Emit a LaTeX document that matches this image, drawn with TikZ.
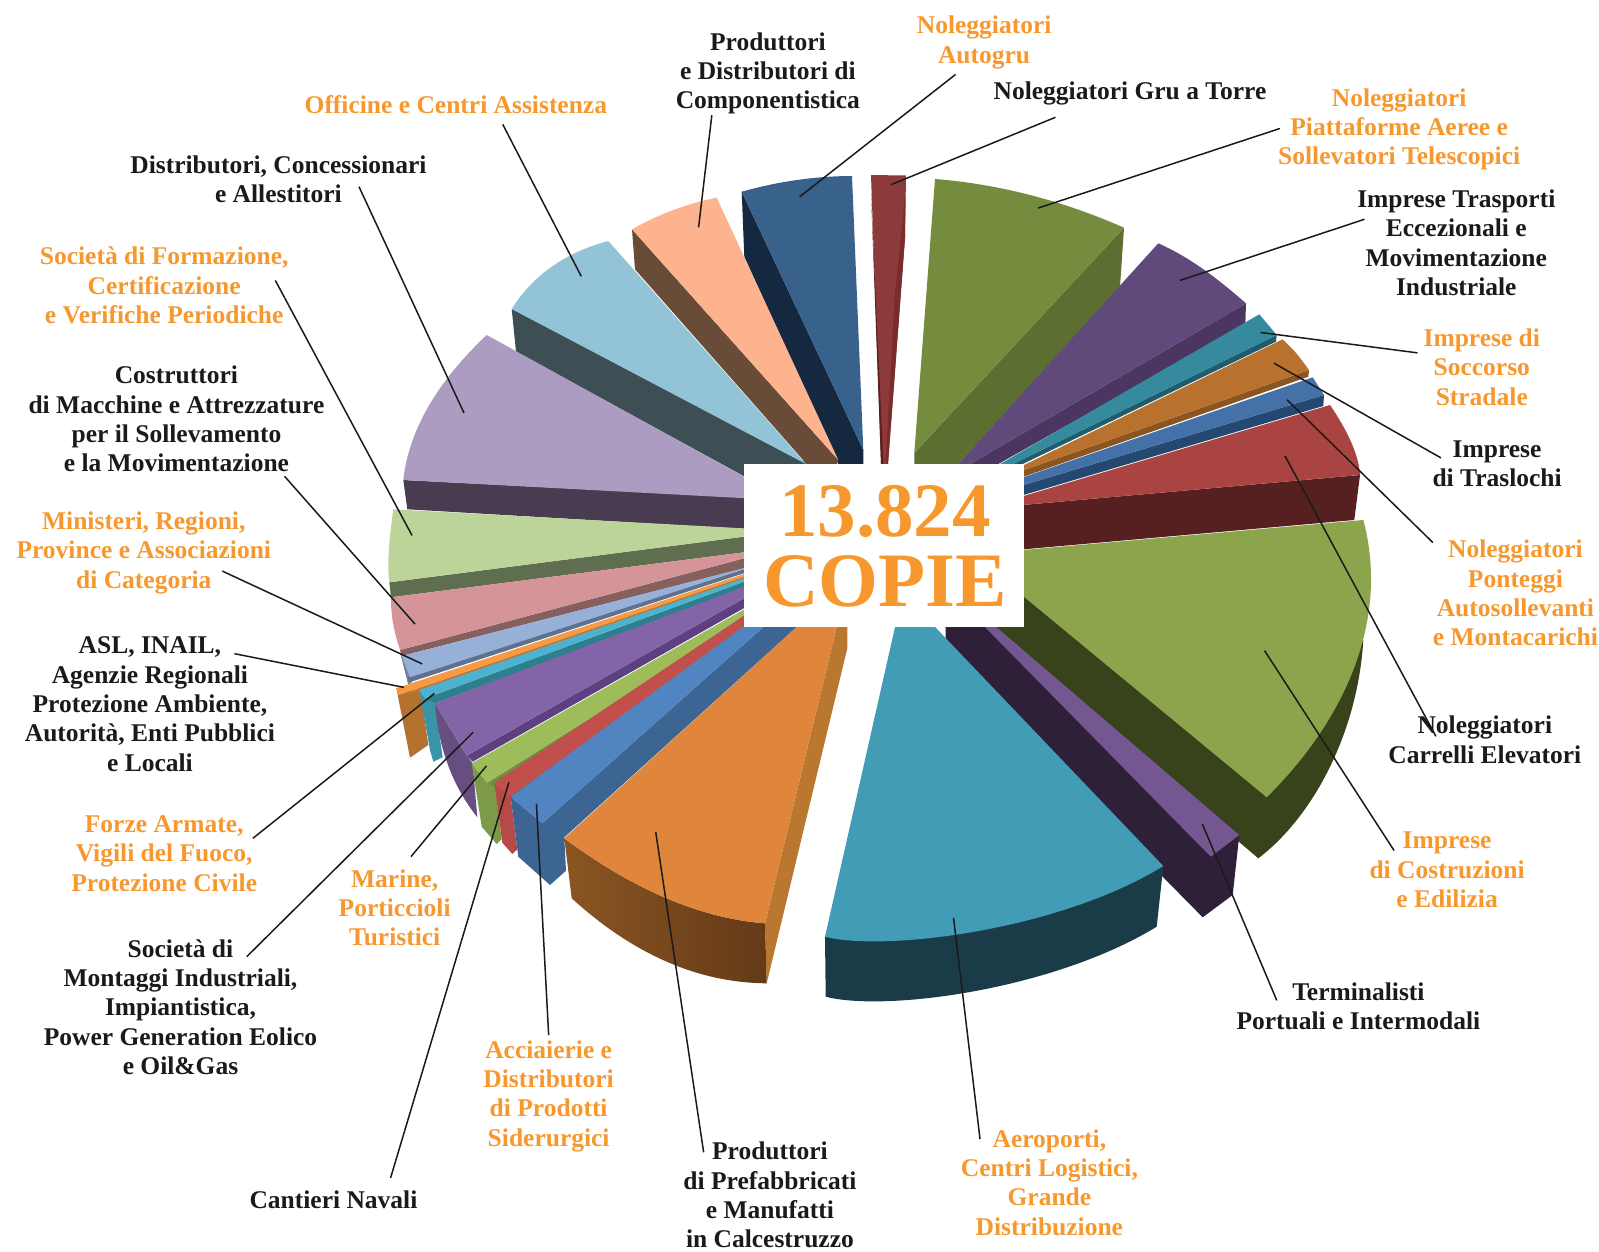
\documentclass[tikz,border=0pt]{standalone}
\usepackage{fontspec}
\setmainfont{Liberation Serif}
\definecolor{ink}{HTML}{1A1A1A}
\definecolor{org}{HTML}{F7982E}
\newcommand{\lf}{\fontsize{25.5}{29.3}\selectfont\bfseries}
\newcommand{\poly}[2]{\definecolor{tmpc}{HTML}{#1}\fill[tmpc] #2;}
\tikzset{
  lab/.style={align=center,font=\lf,inner sep=0pt,text=ink},
  olab/.style={lab,text=org},
  leader/.style={draw=ink,line width=1.5pt},
  bignum/.style={inner sep=0pt,text=org,font=\fontsize{77}{77}\selectfont\bfseries},
}
\begin{document}
\begin{tikzpicture}[x=1pt,y=-1pt]
\useasboundingbox (0,0) rectangle (1599,1251);
% --- upper left, back to front
\poly{142840}{(741.7,191.7) -- (744.3,256.7) -- (838.3,464) -- (863.3,464) -- (863.3,450) -- cycle}
\poly{38618C}{(741.7,191.7) .. controls (778.3,181.4) and (815.1,176.1) .. (852,176) -- (863.3,450) -- cycle}
\poly{694C38}{(632,229.3) -- (635,269.3) -- (806.7,464) -- (837,464) -- (838.3,460) -- cycle}
\poly{FDB48E}{(632,229.3) .. controls (658.9,214.1) and (687.1,203.6) .. (716.7,197.7) -- (838.3,460) -- cycle}
\poly{3D4F55}{(511.7,309) -- (516,351.7) -- (760,485) -- (810,485) -- (806,462) -- cycle}
\poly{93C3D7}{(511.7,309) .. controls (532.8,275.3) and (565,252.6) .. (608.3,241) -- (806,464) -- cycle}
\poly{483D50}{(403.3,480) -- (407.3,509.3) -- (760,530) -- (760,498) -- cycle}
\poly{AC9CC2}{(403.3,480) .. controls (408.8,430.6) and (436.6,382.3) .. (486.7,335) -- (760,485.5) -- (760,499) -- cycle}
\poly{606E50}{(389.3,582.3) -- (391,597.3) -- (760,550.3) -- (760,534.6) -- cycle}
\poly{BCD49A}{(393.3,509.3) .. controls (388.5,543.2) and (387.2,567.6) .. (389.3,582.3) -- (760,534.6) -- (760,529.2) -- cycle}
\poly{85605F}{(400,650) -- (401.7,656) -- (760,564.2) -- (760,554) -- cycle}
\poly{D59598}{(391,597.3) .. controls (390.7,614) and (393.7,631.5) .. (400,650) -- (760,554) -- (760,550.3) -- cycle}
\poly{7D7F9E}{(400.7,655) -- (408.3,685) -- (412,682) -- (403,654) -- cycle}
\poly{5E7290}{(408.3,677.3) -- (408.3,682.7) -- (760,568) -- (760,564) -- cycle}
\poly{97B0D8}{(401.7,656) -- (410,677.3) -- (760,564) -- cycle}
% orange thin
\poly{B4722F}{(396.7,690) -- (410,757.7) -- (428.3,745) -- (420.7,691.7) -- cycle}
\poly{C07830}{(398.3,695) -- (421,692) -- (760,573) -- (760,571) -- cycle}
\poly{F79A46}{(396,688.3) -- (398.3,695) -- (760,571.2) -- (760,568.7) -- cycle}
% cyan
\poly{3A94A8}{(419.3,690) -- (430,750) -- (433.3,761.7) -- (442.7,757.3) -- (435,703) -- (425,698.3) -- cycle}
\poly{2C7F8C}{(425,698.3) -- (435,703.3) -- (760,582.4) -- (760,575.9) -- cycle}
\poly{4CB2CF}{(419.3,690) -- (425,698.3) -- (760,575.9) -- (760,572.8) -- cycle}
% purple
\poly{674E80}{(435,703.3) .. controls (438.3,747.8) and (452.4,785.8) .. (477.3,817.3) -- (472.7,763.3) -- (466.7,755.7) -- cycle}
\poly{5C4080}{(466.7,755.7) -- (472.7,761.7) -- (760,599) -- (760,589.2) -- cycle}
\poly{8464A8}{(435,703.3) -- (466.7,755.7) -- (760,589.2) -- (760,580.7) -- cycle}
% green
\poly{7C9A48}{(471.7,763.3) -- (481.7,826.7) -- (496.7,844) -- (501.7,839.3) -- (495,785) -- (487.3,782.7) -- cycle}
\poly{6E9040}{(487.3,782.7) -- (494,786.7) -- (760,617.9) -- (760,611.7) -- cycle}
\poly{9EBC5A}{(471.7,763.3) -- (487.3,782.7) -- (760,611.7) -- (760,600.4) -- cycle}
% red
\poly{B54A47}{(494.3,782.7) -- (502.3,842.7) -- (512.3,854) -- (517.3,849.3) -- (510.7,796.7) -- cycle}
\poly{9C3A36}{(509.3,796.7) -- (513,799) -- (770,615) -- (765,613) -- cycle}
\poly{C1504D}{(494.3,782.7) -- (509.3,796.7) -- (765,615) -- (760,605) -- cycle}
% blue
\poly{3C6594}{(542.3,823.3) -- (763.3,627) -- (796.7,627) -- (564.3,837.3) -- (566,870.7) -- (550,885) -- (518.3,856.7) -- (510.7,796.7) -- cycle}
\poly{5085C1}{(510.7,796.7) -- (542.3,823.3) -- (763.3,627) -- (743,627) -- cycle}
% big orange
\poly{B9772F}{(765,923.3) -- (766.7,983.3) -- (847.3,648.3) -- (847.3,620) -- (838.4,620) -- cycle}
\definecolor{oa}{HTML}{8A5522}\definecolor{ob}{HTML}{643A18}
\shade[left color=oa,right color=ob] (564.3,838.3) .. controls (633.9,890) and (700.8,918.3) .. (765,923.3) -- (766.7,983.3) .. controls (698.4,982.8) and (633.4,954.5) .. (571.7,898.3) -- cycle;
\poly{E0863C}{(564.3,838.3) .. controls (633.9,890) and (700.8,918.3) .. (765,923.3) -- (838.4,620) -- (804.4,620) -- cycle}
% --- upper right
\poly{5C6F31}{(1124,227.7) -- (1120,286.7) -- (958.3,464) -- (914.3,464) -- (914.3,453) -- cycle}
\poly{758C3E}{(935,179) .. controls (998.7,184.1) and (1061.7,200.3) .. (1124,227.7) -- (914.3,453) -- cycle}
\poly{4A3660}{(1246,303.3) -- (1245.3,325) -- (998.3,464) -- (970,464) -- cycle}
\poly{604A7B}{(1158.3,243.3) .. controls (1193.6,258.9) and (1222.8,283.3) .. (1246,303.3) -- (970,464) -- (958.3,464) -- cycle}
\poly{205C6C}{(1276.7,335) -- (1276,341.7) -- (1022.7,464) -- (1013,464) -- cycle}
\poly{358A9E}{(1259.3,314.3) -- (1276.7,335) -- (1013,464) -- (1000,464) -- cycle}
\poly{8A5520}{(1309,370) -- (1308.3,376.7) -- (1000,485) -- (1000,478.4) -- cycle}
\poly{B9722E}{(1282.7,339.3) .. controls (1296.05,352.45) .. (1309,370) -- (1000,478.4) -- (1000,476.7) -- cycle}
\poly{254870}{(1324,395) -- (1323.3,406) -- (1000,502) -- (1000,492) -- cycle}
\poly{4471A8}{(1312.7,377.3) -- (1324,395) -- (1000,492) -- (1000,485.3) -- cycle}
\poly{562020}{(1360,475) -- (1354.3,520) -- (1000,551.4) -- (1000,507) -- cycle}
\poly{A94442}{(1330,405) .. controls (1348.9,432.7) and (1358.9,456.2) .. (1360,475) -- (1000,507) -- (1000,503) -- cycle}
% big green
\poly{38421B}{(1363.3,640) .. controls (1358,730) and (1315,815) .. (1258.3,858.3) -- (986.7,627) -- (1000,570) -- cycle}
\poly{8CA54D}{(1363.3,520) .. controls (1390,620) and (1345,720) .. (1266.7,797.3) -- (1000,577) -- (1000,552) -- cycle}
% purple strip
\poly{2E2038}{(945.7,620) -- (945.7,640) -- (1163,877) -- (1202.7,917.3) -- (1232.7,895) -- (1239.3,835) -- (985,620) -- cycle}
\poly{745690}{(978,620) -- (1210.7,856.7) -- (1239.3,835) -- (988,620) -- cycle}
% big teal
\poly{1A3C48}{(825,936.7) -- (825.7,996.7) .. controls (885,1012) and (1053,990) .. (1156.7,926.7) -- (1163.3,866) -- cycle}
\poly{429CB5}{(825,936.7) .. controls (885,952) and (1060,930) .. (1163.3,866) -- (928.4,620) -- (896.6,620) -- cycle}
% small red, top
\poly{8C3A3A}{(871,175) -- (906,175.5) -- (905,238) -- (888,464) -- (881,464) -- cycle}
\poly{782C2C}{(905.5,193) -- (905,238) -- (888,464) -- (885.5,464) -- (895,293) -- cycle}
\poly{5C2020}{(871,193) -- (881,464) -- (883.5,464) -- (874,260) -- cycle}
% centre box
\fill[white] (744,464) rectangle (1024,627);
\node[bignum] (num) at (885,511) {13.824};
\node[bignum] (cop) at (885,581) {COPIE};
% labels and leaders (reference's on-screen coordinates)
\begin{scope}[x=1.0198pt,y=-1.0198pt]
\node[olab] (autogru) at (965,41.5) {Noleggiatori\\Autogru};
\node[lab] (compon) at (753,72) {Produttori\\e Distributori di\\Componentistica};
\node[lab] (torre) at (1108,92) {Noleggiatori Gru a Torre};
\node[olab] (aeree) at (1372,127) {Noleggiatori\\Piattaforme Aeree e\\Sollevatori Telescopici};
\node[lab] (trasp) at (1428,238) {Imprese Trasporti\\Eccezionali e\\Movimentazione\\Industriale};
\node[olab] (soccorso) at (1453,360) {Imprese di\\Soccorso\\Stradale};
\node[lab] (traslo) at (1468,455) {Imprese\\di Traslochi};
\node[olab] (pont) at (1486,581.5) {Noleggiatori\\Ponteggi\\Autosollevanti\\e Montacarichi};
\node[lab] (carrelli) at (1456,725.5) {Noleggiatori\\Carrelli Elevatori};
\node[olab] (edil) at (1419,853) {Imprese\\di Costruzioni\\e Edilizia};
\node[lab] (termin) at (1332,986.5) {Terminalisti\\Portuali e Intermodali};
\node[olab] (aero) at (1029,1159.5) {Aeroporti,\\Centri Logistici,\\Grande\\Distribuzione};
\node[lab] (prefab) at (755,1172) {Produttori\\di Prefabbricati\\e Manufatti\\in Calcestruzzo};
\node[lab] (navali) at (327,1176) {Cantieri Navali};
\node[olab] (acciai) at (538,1075) {Acciaierie e\\Distributori\\di Prodotti\\Siderurgici};
\node[olab] (marine) at (387,890) {Marine,\\Porticcioli\\Turistici};
\node[lab] (montag) at (177,987.5) {Società di\\Montaggi Industriali,\\Impiantistica,\\Power Generation Eolico\\e Oil\&Gas};
\node[olab] (forze) at (161,837) {Forze Armate,\\Vigili del Fuoco,\\Protezione Civile};
\node[lab] (asl) at (147,690.5) {ASL, INAIL,\\Agenzie Regionali\\Protezione Ambiente,\\Autorità, Enti Pubblici\\e Locali};
\node[olab] (minist) at (141,542) {Ministeri, Regioni,\\Province e Associazioni\\di Categoria};
\node[lab] (costr) at (173,411) {Costruttori\\di Macchine e Attrezzature\\per il Sollevamento\\e la Movimentazione};
\node[olab] (formaz) at (161,280) {Società di Formazione,\\Certificazione\\e Verifiche Periodiche};
\node[lab] (distr) at (273,175.5) {Distributori, Concessionari\\e Allestitori};
\node[olab] (offic) at (447,103) {Officine e Centri Assistenza};
\foreach \n/\xa/\ya/\xb/\yb in {
 l1/493/122/570/271, l2/352/183/455/405, l3/270/275/404/525, l4/279/467/407/612,
 l5/218/560/414/651, l6/230/641/396/674, l7/248/822/426/680, l8/242/938/464/718,
 l9/403/840/477/751, l10/383/1155/499/767, l11/538/1015/526/788, l12/690/1130/643/816,
 l13/961/1117/935/900, l14/1252/981/1179/808, l15/1367/834/1240/638, l16/1408/722/1260/447,
 l17/1405/532/1262/392, l18/1413/449/1249/356, l19/1390/346/1236/326, l20/1338/215/1157/275,
 l21/1255/126/1018/204, l22/1035/115/874/181, l23/937/73/784/193, l24/698/113/685/223}{
  \coordinate (\n a) at (\xa,\ya);
  \coordinate (\n b) at (\xb,\yb);
  \draw[leader] (\n a) -- (\n b);
}
\end{scope}
\end{tikzpicture}
\end{document}
